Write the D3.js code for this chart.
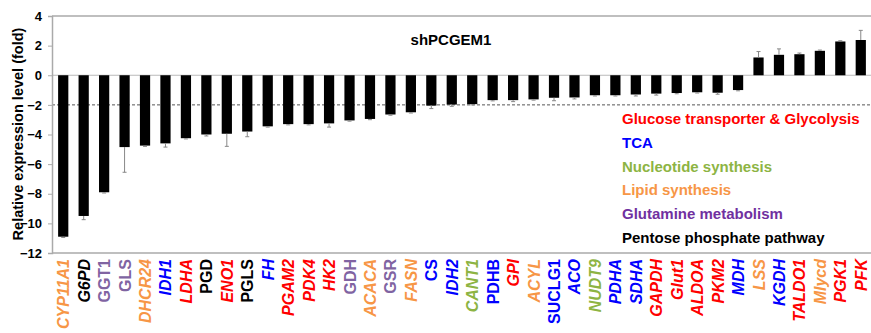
<!DOCTYPE html>
<html>
<head>
<meta charset="utf-8">
<script src="https://cdn.jsdelivr.net/npm/d3@7"></script>
<style>
  body { margin: 0; background: #fff; }
  svg text { font-family: "Liberation Sans", Arial, sans-serif; font-weight: bold; }
</style>
</head>
<body>
<div id="chart"></div>
<script>
// gene order as in the figure
var genes = ['CYP11A1','G6PD','GGT1','GLS','DHCR24','IDH1','LDHA','PGD','ENO1','PGLS',
	'FH','PGAM2','PDK4','HK2','GDH','ACACA','GSR','FASN','CS','IDH2',
	'CANT1','PDHB','GPI','ACYL','SUCLG1','ACO','NUDT9','PDHA','SDHA','GAPDH',
	'Glut1','ALDOA','PKM2','MDH','LSS','KGDH','TALDO1','Mlycd','PGK1','PFK']

var values = [-10.9,-9.5,-7.9,-4.85,-4.75,-4.6,-4.25,-4.0,-3.95,-3.8,
	-3.45,-3.3,-3.3,-3.25,-3.05,-2.95,-2.65,-2.5,-2.05,-1.98,
	-1.95,-1.68,-1.68,-1.63,-1.52,-1.5,-1.35,-1.35,-1.3,-1.24,
	-1.2,-1.15,-1.18,-1.0,1.2,1.38,1.42,1.65,2.28,2.38]

var errors = [0.05,0.25,0.05,1.7,0.05,0.25,0.05,0.1,0.85,0.35,
	0.05,0.05,0.05,0.25,0.05,0.05,0.05,0.05,0.2,0.12,
	0.05,0.05,0.1,0.05,0.2,0.1,0.05,0.05,0.1,0.1,
	0.05,0.05,0.1,0.05,0.4,0.4,0.08,0.05,0.05,0.65]

// category of each gene (index into categories)
var groups = [3,5,4,4,3,1,0,5,0,5,
	1,0,0,0,4,3,4,3,1,1,
	2,1,0,3,1,1,2,1,1,0,
	0,0,0,1,3,1,0,3,0,0]

var categories = ['Glucose transporter & Glycolysis','TCA','Nucleotide synthesis',
	'Lipid synthesis','Glutamine metabolism','Pentose phosphate pathway']

var yTicks = [4,2,0,-2,-4,-6,-8,-10,-12]
var threshold = -2
var title = 'shPCGEM1'

// label colours per category, legend uses slightly stronger purple
var labelColors = ['#ff0000','#0000ff','#8db443','#f79646','#8064a2','#000000']
var legendColors = ['#ff0000','#0000ff','#8db443','#f79646','#7030a0','#000000']
var uprightGenes = ['GGT1','GLS','PGD','PGLS','GDH','GSR','CS','PDHB','SUCLG1']

var width = 871, height = 333
var margin = {top: 16, left: 52, right: 0, bottom: 80}

var svg = d3.select('#chart').append('svg')
	.attr('width', width)
	.attr('height', height)

var x = d3.scaleBand()
	.domain(genes)
	.range([margin.left + 1, width])
	.paddingInner(0.5)
	.paddingOuter(0.25)

var y = d3.scaleLinear()
	.domain([-12, 4])
	.range([253, margin.top])

// frame lines
svg.append('line')
	.attr('x1', margin.left).attr('x2', width)
	.attr('y1', y(4)).attr('y2', y(4))
	.attr('stroke', '#aaa').attr('stroke-width', 1.5)

svg.append('line')
	.attr('x1', margin.left).attr('x2', width)
	.attr('y1', y(-12)).attr('y2', y(-12))
	.attr('stroke', '#aaa').attr('stroke-width', 1.5)

svg.append('line')
	.attr('x1', margin.left).attr('x2', width)
	.attr('y1', y(0)).attr('y2', y(0))
	.attr('stroke', '#bbb').attr('stroke-width', 1)

svg.append('line')
	.attr('x1', margin.left).attr('x2', width)
	.attr('y1', y(threshold)).attr('y2', y(threshold))
	.attr('stroke', '#555').attr('stroke-width', 1)
	.attr('stroke-dasharray', '3,2')

// y axis
var yAxis = svg.append('g')
	.attr('transform', 'translate(' + margin.left + ',0)')
	.call(d3.axisLeft(y).tickValues(yTicks).tickSize(4).tickPadding(6))

yAxis.select('.domain').attr('stroke', '#aaa').attr('stroke-width', 1.5)
yAxis.selectAll('.tick line').attr('stroke', '#aaa')
yAxis.selectAll('.tick text')
	.attr('font-size', 13)
	.attr('fill', '#000')
	.style('font-family', '"Liberation Sans", Arial, sans-serif')
	.style('font-weight', 'bold')

svg.append('text')
	.attr('transform', 'translate(23,' + 134 + ') rotate(-90)')
	.attr('text-anchor', 'middle')
	.attr('font-size', 14.5)
	.text('Relative expression level (fold)')

// bars
var bars = svg.append('g')
bars.selectAll('rect')
	.data(genes)
	.enter().append('rect')
	.attr('x', function(d) { return x(d) })
	.attr('width', x.bandwidth())
	.attr('y', function(d, i) { return Math.min(y(values[i]), y(0)) })
	.attr('height', function(d, i) { return Math.abs(y(values[i]) - y(0)) })
	.attr('fill', '#000')

// error bars, drawn away from zero
var errG = svg.append('g').attr('stroke', '#888').attr('stroke-width', 1)
genes.forEach(function(g, i) {
	var cx = x(g) + x.bandwidth() / 2
	var v = values[i]
	var end = v < 0 ? v - errors[i] : v + errors[i]
	errG.append('line')
		.attr('x1', cx).attr('x2', cx)
		.attr('y1', y(v)).attr('y2', y(end))
	errG.append('line')
		.attr('x1', cx - 2).attr('x2', cx + 2)
		.attr('y1', y(end)).attr('y2', y(end))
})

// gene labels
svg.append('g').selectAll('text')
	.data(genes)
	.enter().append('text')
	.attr('transform', function(d) {
		return 'translate(' + (x(d) + x.bandwidth() / 2 + 6) + ',259) rotate(-90)'
	})
	.attr('text-anchor', 'end')
	.attr('font-size', 16)
	.style('font-style', function(d) { return uprightGenes.indexOf(d) >= 0 ? 'normal' : 'italic' })
	.attr('fill', function(d, i) { return labelColors[groups[i]] })
	.text(function(d) { return d })

// title
svg.append('text')
	.attr('x', 451).attr('y', 45)
	.attr('text-anchor', 'middle')
	.attr('font-size', 15)
	.text(title)

// legend
svg.append('g').selectAll('text')
	.data(categories)
	.enter().append('text')
	.attr('x', 622)
	.attr('y', function(d, i) { return 124 + i * 23.8 })
	.attr('font-size', 15)
	.attr('fill', function(d, i) { return legendColors[i] })
	.text(function(d) { return d })
</script>
</body>
</html>
